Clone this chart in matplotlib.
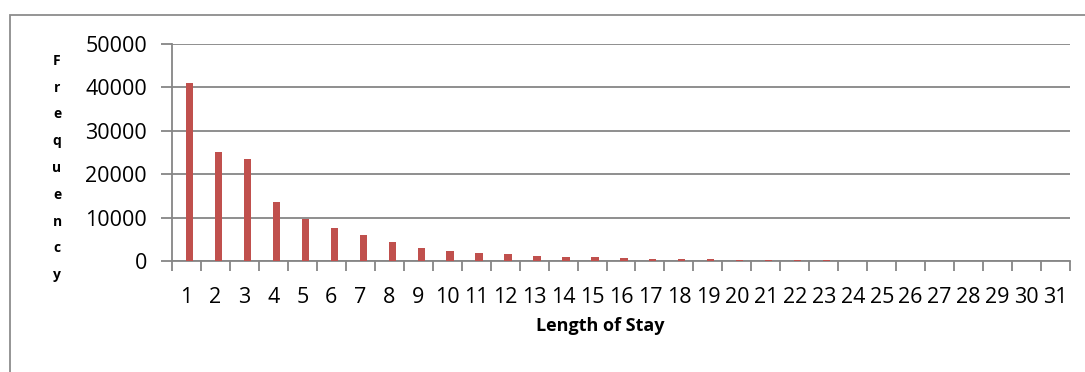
import matplotlib
matplotlib.use("Agg")
import matplotlib.pyplot as plt
from matplotlib.patches import Rectangle
import numpy as np

# length of stay (days) and how often each occurs
days = list(range(1, 32))
freq = [41000, 25200, 23600, 13500, 9700, 7650, 6030, 4330, 3100, 2200,
        1850, 1550, 1230, 1000, 950, 770, 560, 500, 390, 320,
        300, 250, 200, 110, 80, 60, 40, 30, 20, 15, 10]
yticks = [0, 10000, 20000, 30000, 40000, 50000]

plt.rcParams['font.family'] = ['Open Sans', 'DejaVu Sans']
GRID = '#868686'
BAR = '#C0504D'

fig = plt.figure(figsize=(10.85, 3.72), dpi=100)
ax = fig.add_axes([172 / 1085, 1 - 261 / 372, (1070 - 172) / 1085, 217 / 372])

x = np.arange(len(days))
ax.bar(x + 0.1, freq, width=0.25, color=BAR, zorder=3)

ax.set_xlim(-0.5, len(days) - 0.5)
ax.set_ylim(0, 50000)
ax.set_yticks(yticks)
ax.set_yticklabels([str(v) for v in yticks], fontsize=15.5)
ax.yaxis.grid(True, color=GRID, linewidth=1.3, zorder=0)

ax.set_xticks(x)
ax.set_xticklabels([str(d) for d in days], fontsize=15.5)
ax.set_xticks(np.arange(len(days) + 1) - 0.5, minor=True)
ax.tick_params(axis='x', which='major', length=0, pad=19)
ax.tick_params(axis='x', which='minor', length=7, width=1.3, color=GRID, direction='out')
ax.tick_params(axis='y', length=8, width=1.3, color=GRID, pad=10)

for s in ['top', 'right']:
    ax.spines[s].set_visible(False)
for s in ['left', 'bottom']:
    ax.spines[s].set_color(GRID)
    ax.spines[s].set_linewidth(1.3)

fig.text(600 / 1085, 1 - 326 / 372, 'Length of Stay', fontsize=13,
         fontweight='bold', ha='center', va='center')
fig.text(57 / 1085, 1 - 168 / 372, '\n'.join('Frequency'), fontsize=10,
         fontweight='bold', ha='center', va='center', linespacing=2.16)

# chart border like the spreadsheet frame
fig.patches.append(Rectangle((10 / 1085, -0.1), 1.2, 1 - 15 / 372 + 0.1,
                             transform=fig.transFigure, fill=False,
                             edgecolor='#8c8c8c', linewidth=1.3))

fig.savefig('out.png', dpi=100)
